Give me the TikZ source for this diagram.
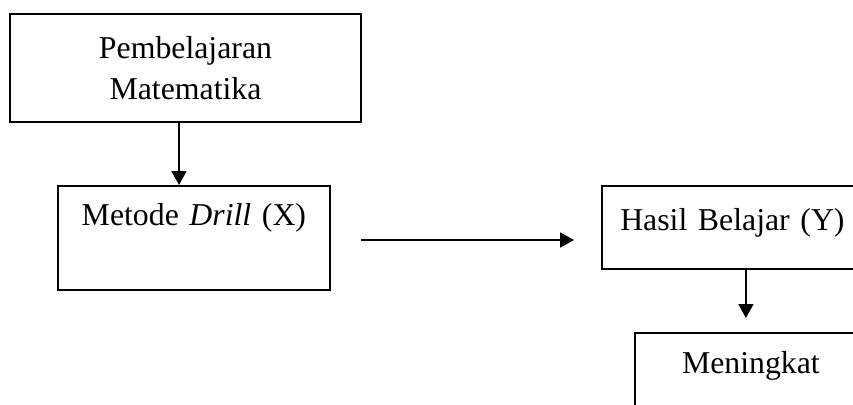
\documentclass[tikz,border=0pt]{standalone}
\usepackage{fontspec}
\setmainfont{Liberation Serif}
\usetikzlibrary{arrows.meta}
\begin{document}
\begin{tikzpicture}[x=1pt,y=-1pt,
  box/.style={draw,line width=1.8pt,rectangle,inner sep=0pt,align=center,
    font=\fontsize{31.8}{41.5}\selectfont},
  arr/.style={line width=1.8pt,-{Triangle[length=14pt,width=15pt]}}]
\useasboundingbox (0,0) rectangle (853,404);
\clip (0,0) rectangle (853,404);
\node[box,minimum width=351pt,minimum height=108pt] (b1) at (185.5,68)
  {Pembelajaran\\Matematika};
\node[box,text width=272pt,text height=40pt,text depth=64pt,anchor=north west] (b2) at (57,185)
  {Metode \textit{Drill} (X)};
\node[box,text width=261pt,text height=45pt,text depth=38pt,anchor=north west] (b3) at (601,185)
  {Hasil Belajar (Y)};
\node[box,text width=232pt,text height=41pt,text depth=50pt,anchor=north west] (b4) at (634,332)
  {Meningkat};
\coordinate (h1) at (361,240);
\coordinate (h2) at (574,240);
\draw[arr] ([xshift=-6.5pt]b1.south) -- ([xshift=-6.5pt]b1.south |- b2.north);
\draw[arr] (h1) -- (h2);
\draw[arr] ([xshift=13.5pt]b3.south) -- ([xshift=13.5pt,yshift=14pt]b3.south |- b4.north);
\end{tikzpicture}
\end{document}
